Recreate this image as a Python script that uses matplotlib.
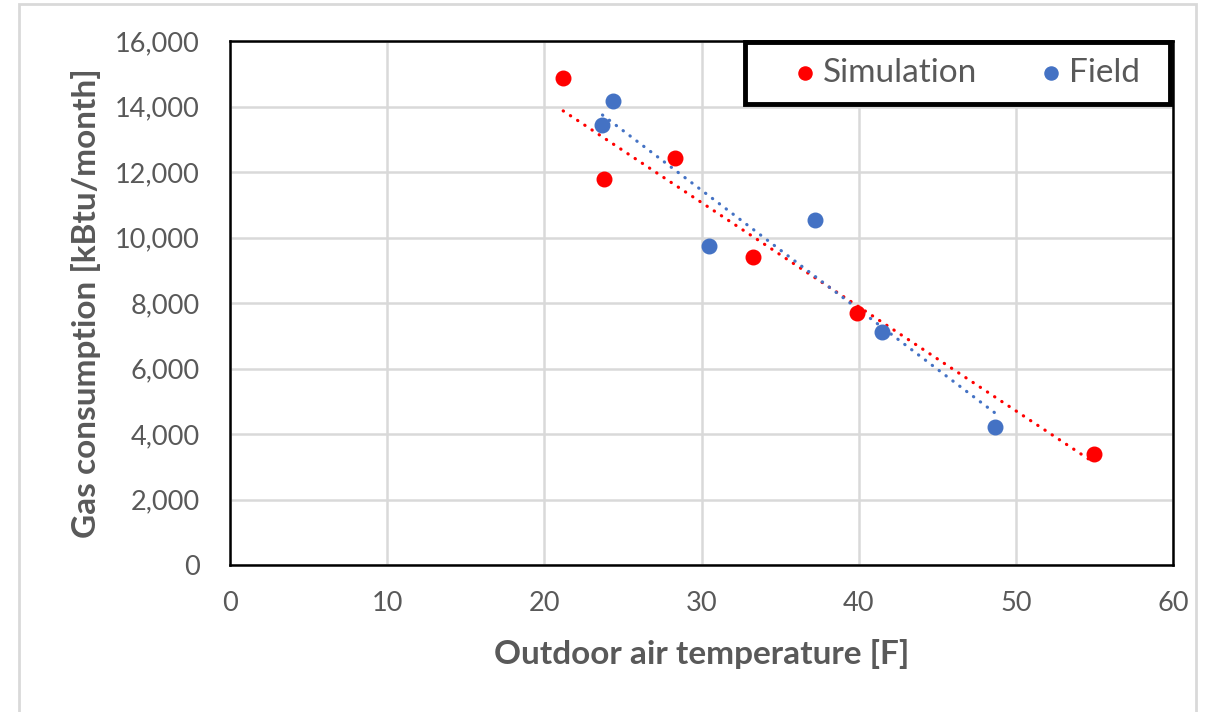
import numpy as np
import matplotlib
matplotlib.use("Agg")
import matplotlib.pyplot as plt
from matplotlib.patches import Rectangle
from matplotlib.ticker import FuncFormatter

plt.rcParams['font.family'] = ['Lato', 'DejaVu Sans']

# data
sim_temp = [21.2, 23.8, 28.3, 33.3, 39.9, 55.0]
sim_gas = [14870, 11790, 12430, 9400, 7690, 3390]
field_temp = [24.4, 23.7, 30.5, 37.2, 41.5, 48.7]
field_gas = [14170, 13440, 9740, 10530, 7110, 4210]

red = '#FF0000'
blue = '#4472C4'
grey = '#595959'

W, H = 1214, 712
fig = plt.figure(figsize=(W/100, H/100), dpi=100)
ax = fig.add_axes([230/W, 1-565/H, (1173-230)/W, (565-41)/H])

# outer chart frame
fig.patches.append(Rectangle((19/W, -0.05), (1196-19)/W, 1.05 - 4/H,
                             transform=fig.transFigure, fill=False,
                             edgecolor='#D9D9D9', linewidth=2))

ax.scatter(sim_temp, sim_gas, s=110, color=red, zorder=4, label='Simulation')
ax.scatter(field_temp, field_gas, s=110, color=blue, zorder=4, label='Field')

# linear trendlines
for xs, ys, c in [(sim_temp, sim_gas, red), (field_temp, field_gas, blue)]:
    k, b = np.polyfit(xs, ys, 1)
    xx = np.array([min(xs), max(xs)])
    ax.plot(xx, k*xx + b, color=c, linewidth=2.3, linestyle=(0, (0.1, 2.6)),
            dash_capstyle='round', zorder=3)

ax.set_xlim(0, 60)
ax.set_ylim(0, 16000)
ax.set_xticks(range(0, 61, 10))
ax.set_yticks(range(0, 16001, 2000))
ax.yaxis.set_major_formatter(FuncFormatter(lambda v, p: f'{int(v):,}'))
ax.grid(True, color='#D9D9D9', linewidth=1.8)
ax.set_axisbelow(True)
ax.tick_params(length=0, labelsize=19.5, labelcolor=grey)
ax.tick_params(axis='y', pad=22)
ax.tick_params(axis='x', pad=19)
for s in ax.spines.values():
    s.set_color('black')
    s.set_linewidth(1.8)

ax.set_xlabel('Outdoor air temperature [F]', fontsize=24, fontweight='bold',
              color=grey, labelpad=16)
ax.set_ylabel('Gas consumption [kBtu/month]', fontsize=24, fontweight='bold',
              color=grey, labelpad=10)

# legend box drawn separately (Excel style, flush with plot top)
ax.add_patch(Rectangle((745/W, 1-104/H), (1170-745)/W, (104-42)/H,
                       transform=fig.transFigure, facecolor='white',
                       edgecolor='black', linewidth=3.5, zorder=5, clip_on=False))
leg = ax.legend(loc='center', bbox_to_anchor=(966/W, 1-73/H),
                bbox_transform=fig.transFigure, ncol=2,
                fontsize=24, frameon=False, handletextpad=0.15, handlelength=0.8,
                columnspacing=1.8, borderpad=0, borderaxespad=0, markerscale=0.9)
leg.set_zorder(6)
for t in leg.get_texts():
    t.set_color(grey)

fig.savefig('out.png', dpi=100)
